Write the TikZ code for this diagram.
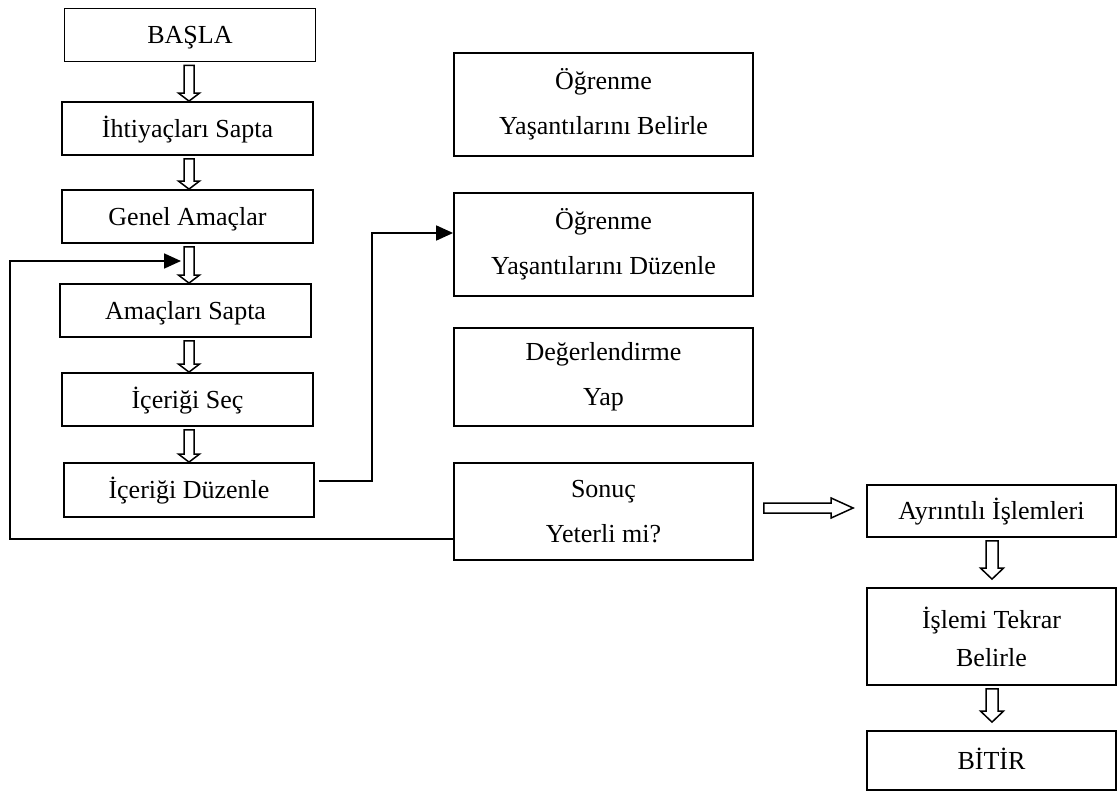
\documentclass[tikz,border=0pt]{standalone}
\usepackage{fontspec}
\setmainfont{Liberation Serif}
\usetikzlibrary{arrows.meta,calc}

\tikzset{
  box/.style={draw, line width=1.8pt, minimum width=251pt, minimum height=53pt,
    inner sep=0pt, font=\fontsize{26}{31}\selectfont},
  onebox/.style={box, text height=17pt, text depth=0pt},
  twobox/.style={box, align=center, minimum width=299pt, font=\fontsize{26}{45}\selectfont},
  conn/.style={line width=1.8pt, -{Triangle[length=17pt,width=15pt]}},
  blockarrow/.style={draw, line width=1.5pt, fill=white, line join=miter},
}

% hollow downward block arrow between two nodes
% #1 upper node, #2 lower node, #3 x reference, #4 gap above the tip,
% #5 half shaft width, #6 half head width, #7 head length
\newcommand{\vblock}[7]{%
  \path (#1.south -| #3) coordinate (vb-top) (#2.north -| #3) coordinate (vb-tip);
  \draw[blockarrow]
    ($(vb-top)+(-#5,3)$) -- ($(vb-tip)+(-#5,-#7-#4)$) -- ($(vb-tip)+(-#6,-#7-#4)$)
    -- ($(vb-tip)+(0,-#4)$) -- ($(vb-tip)+(#6,-#7-#4)$) -- ($(vb-tip)+(#5,-#7-#4)$)
    -- ($(vb-top)+(#5,3)$) -- cycle;}

\begin{document}
\begin{tikzpicture}[x=1pt,y=-1pt]
\useasboundingbox (0,0) rectangle (1117,792);

% left column
\node[onebox] (basla)   at (190,35)    {BAŞLA};
\node[onebox] (ihtiyac) at (187.5,128.5) {İhtiyaçları Sapta};
\node[onebox] (genel)   at (187.5,216.5) {Genel Amaçlar};
\node[onebox] (amac)    at (185.5,310.5) {Amaçları Sapta};
\node[onebox] (icsec)   at (187.5,399.5) {İçeriği Seç};
\node[onebox, minimum height=54pt, minimum width=250pt] (icduz) at (189,490) {İçeriği Düzenle};

% middle column
\node[twobox, minimum height=103pt] (ogbel) at (603.5,104.5) {Öğrenme\\Yaşantılarını Belirle};
\node[twobox, minimum height=103pt] (ogduz) at (603.5,244.5) {Öğrenme\\Yaşantılarını Düzenle};
\node[twobox, minimum height=98pt]  (deger) at (603.5,377)   {Değerlendirme\\Yap};
\node[twobox, minimum height=97pt]  (sonuc) at (603.5,511.5) {Sonuç\\Yeterli mi?};

% right column
\node[onebox, minimum width=249pt, minimum height=52pt] (ayrinti) at (991.5,511) {Ayrıntılı İşlemleri};
\node[twobox, minimum width=249pt, minimum height=97pt, font=\fontsize{26}{38}\selectfont]
  (islem) at (991.5,636.5) {İşlemi Tekrar\\Belirle};
\node[onebox, minimum width=249pt, minimum height=59pt] (bitir) at (991.5,760.5) {BİTİR};

% reference verticals for the block arrows
\coordinate (lx) at (189,0);
\coordinate (rx) at (992,0);

\vblock{basla}{ihtiyac}{lx}{0}{5}{10.5}{8}
\vblock{ihtiyac}{genel}{lx}{0}{5}{10.5}{8}
\vblock{genel}{amac}{lx}{0}{5}{10.5}{8}
\vblock{amac}{icsec}{lx}{0}{5}{10.5}{8}
\vblock{icsec}{icduz}{lx}{0}{5}{10.5}{8}
\vblock{ayrinti}{islem}{rx}{8}{6}{11.5}{11}
\vblock{islem}{bitir}{rx}{8}{6}{11.5}{11}

% horizontal block arrow towards the detail step
\path ([yshift=3.5pt]sonuc.east) coordinate (hb-s)
      (ayrinti.west |- hb-s) coordinate (hb-e);
\draw[blockarrow]
  ($(hb-s)+(10,-5)$) -- ($(hb-e)+(-35,-5)$) -- ($(hb-e)+(-35,-10)$)
  -- ($(hb-e)+(-13,0)$) -- ($(hb-e)+(-35,10)$) -- ($(hb-e)+(-35,5)$)
  -- ($(hb-s)+(10,5)$) -- cycle;

% feedback loop back to the objectives
\coordinate (fbtip) at (181,261);
\draw[conn] ([yshift=-27.5pt]sonuc.west) -| (10,261) -- (fbtip);

% content organisation leads to organising learning experiences
\draw[conn] ([xshift=4pt,yshift=9pt]icduz.east) -| (372,233) -- ([yshift=11.5pt]ogduz.west);

\end{tikzpicture}
\end{document}
